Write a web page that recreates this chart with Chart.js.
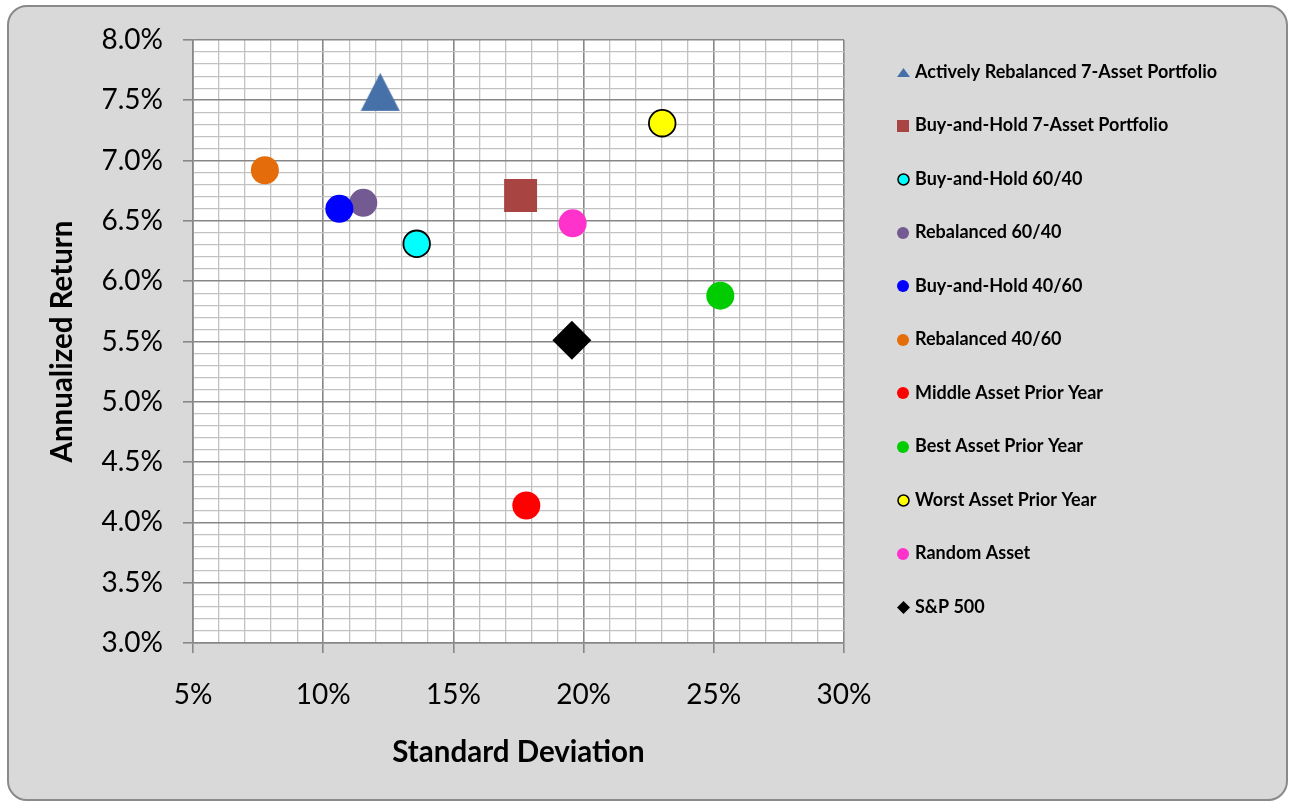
<!DOCTYPE html>
<html>
<head>
<meta charset="utf-8">
<script src="https://cdn.jsdelivr.net/npm/chart.js@4.4.1/dist/chart.umd.min.js"></script>
<style>
  html, body { margin: 0; padding: 0; background: #ffffff; }
  #frame {
    position: absolute; left: 7px; top: 5px; width: 1281px; height: 796px;
    box-sizing: border-box; border: 2px solid #8a8a8a; border-radius: 20px;
    background: #d9d9d9;
  }
  #chart { position: absolute; left: 0; top: 0; }
</style>
</head>
<body>
<div id="frame"></div>
<canvas id="chart" width="1293" height="802"></canvas>
<script>
// Risk / return of each strategy (percent)
const seriesNames = [
  'Actively Rebalanced 7-Asset Portfolio',
  'Buy-and-Hold 7-Asset Portfolio',
  'Buy-and-Hold 60/40',
  'Rebalanced 60/40',
  'Buy-and-Hold 40/60',
  'Rebalanced 40/60',
  'Middle Asset Prior Year',
  'Best Asset Prior Year',
  'Worst Asset Prior Year',
  'Random Asset',
  'S&P 500'
];
const stdDev    = [12.19, 17.58, 13.59, 11.54, 10.62, 7.76, 17.80, 25.25, 23.02, 19.58, 19.55];
const annReturn = [7.57, 6.71, 6.31, 6.65, 6.60, 6.92, 4.14, 5.88, 7.31, 6.48, 5.51];
const fillColors = ['#4671a8', '#a84543', '#00ffff', '#735a92', '#0000ff', '#e46c0a',
                    '#ff0000', '#00cc00', '#ffff00', '#ff33cc', '#000000'];
const markerShapes = ['triangle', 'square', 'circle', 'circle', 'circle', 'circle',
                      'circle', 'circle', 'circle', 'circle', 'diamond'];
const outlined = [false, false, true, false, false, false, false, false, true, false, false];

// Axis ranges and tick steps
const xRange = [5, 30];
const yRange = [3, 8];
const xMinorStep = 1, xMajorStep = 5;
const yMinorStep = 0.1, yMajorStep = 0.5;

const FONT = 'Lato';
const PLOT = { left: 193, right: 844, top: 40, bottom: 643 };
const W = 1293, H = 802;

function isMajor(v, step) {
  const r = v / step;
  return Math.abs(r - Math.round(r)) < 1e-6;
}

// Draws a marker into a small canvas so it can be used as a point style
function makeMarker(shape, w, h, fill, stroke, lw) {
  const pad = 2;
  const c = document.createElement('canvas');
  c.width = Math.ceil(w + pad * 2);
  c.height = Math.ceil(h + pad * 2);
  const g = c.getContext('2d');
  const cx = c.width / 2, cy = c.height / 2;
  g.beginPath();
  if (shape === 'triangle') {
    g.moveTo(cx, cy - h / 2);
    g.lineTo(cx + w / 2, cy + h / 2);
    g.lineTo(cx - w / 2, cy + h / 2);
    g.closePath();
  } else if (shape === 'square') {
    g.rect(cx - w / 2, cy - h / 2, w, h);
  } else if (shape === 'diamond') {
    g.moveTo(cx, cy - h / 2);
    g.lineTo(cx + w / 2, cy);
    g.lineTo(cx, cy + h / 2);
    g.lineTo(cx - w / 2, cy);
    g.closePath();
  } else {
    g.arc(cx, cy, w / 2, 0, Math.PI * 2);
  }
  g.fillStyle = fill;
  g.fill();
  if (stroke) {
    g.lineWidth = lw;
    g.strokeStyle = stroke;
    g.stroke();
  }
  return c;
}

const legendMarkers = markerShapes.map((s, i) => {
  if (s === 'triangle') return makeMarker(s, 13, 9, fillColors[i]);
  if (s === 'square') return makeMarker(s, 12, 12, fillColors[i]);
  if (s === 'diamond') return makeMarker(s, 13, 13, fillColors[i]);
  return outlined[i] ? makeMarker(s, 11, 11, fillColors[i], '#000', 1.5)
                     : makeMarker(s, 12, 12, fillColors[i]);
});

const datasets = seriesNames.map((name, i) => {
  const ds = {
    label: name,
    data: [{ x: stdDev[i], y: annReturn[i] }],
    backgroundColor: fillColors[i],
    borderColor: outlined[i] ? '#000000' : fillColors[i],
    borderWidth: outlined[i] ? 1.8 : 0,
    pointRadius: outlined[i] ? 13.3 : 14,
    pointHoverRadius: outlined[i] ? 13.3 : 14,
    pointStyle: 'circle',
    order: i
  };
  if (markerShapes[i] === 'triangle') {
    ds.pointStyle = makeMarker('triangle', 39, 38, fillColors[i]);
  } else if (markerShapes[i] === 'square') {
    ds.pointStyle = 'rect';
    ds.pointRadius = ds.pointHoverRadius = 23.3;
  } else if (markerShapes[i] === 'diamond') {
    ds.pointStyle = 'rectRot';
    ds.pointRadius = ds.pointHoverRadius = 19.5;
  }
  return ds;
});
// the 40/60 buy-and-hold dot sits on top of the rebalanced 60/40 dot
datasets[3].order = 4;
datasets[4].order = 3;

const plotBackground = {
  id: 'plotBackground',
  beforeDraw(chart) {
    const { ctx, chartArea: a } = chart;
    ctx.save();
    ctx.fillStyle = '#ffffff';
    ctx.fillRect(a.left, a.top, a.right - a.left, a.bottom - a.top);
    ctx.restore();
  }
};

// Single-column legend in the right margin, one row per dataset
const sideLegend = {
  id: 'sideLegend',
  afterDraw(chart, args, opts) {
    const ctx = chart.ctx;
    ctx.save();
    ctx.font = `bold ${opts.fontSize}px ${FONT}`;
    ctx.textBaseline = 'middle';
    ctx.textAlign = 'left';
    ctx.fillStyle = '#000000';
    chart.data.datasets.forEach((ds, i) => {
      const y = opts.top + i * opts.step;
      const m = legendMarkers[i];
      ctx.drawImage(m, Math.round(opts.markerX - m.width / 2), Math.round(y - m.height / 2));
      ctx.fillText(ds.label, opts.textX, y);
    });
    ctx.restore();
  }
};

const gridColor = (step) => (ctx) =>
  (ctx.tick && isMajor(ctx.tick.value, step)) ? '#878787' : '#c2c2c2';
const gridWidth = (step) => (ctx) =>
  (ctx.tick && isMajor(ctx.tick.value, step)) ? 1.6 : 1.3;
const tickColor = (step) => (ctx) =>
  (ctx.tick && isMajor(ctx.tick.value, step)) ? '#878787' : 'rgba(0,0,0,0)';

new Chart(document.getElementById('chart'), {
  type: 'scatter',
  data: { datasets },
  options: {
    responsive: false,
    animation: false,
    devicePixelRatio: 1,
    layout: { padding: { top: PLOT.top, left: 0, bottom: 0, right: W - PLOT.right } },
    scales: {
      x: {
        type: 'linear',
        min: xRange[0], max: xRange[1],
        afterFit(scale) { scale.height = H - PLOT.bottom; },
        border: { color: '#878787', width: 1.6 },
        grid: {
          color: gridColor(xMajorStep),
          lineWidth: gridWidth(xMajorStep),
          tickColor: tickColor(xMajorStep),
          tickWidth: 1.6,
          tickLength: 10
        },
        ticks: {
          stepSize: xMinorStep,
          autoSkip: false,
          maxRotation: 0,
          padding: 25,
          color: '#000000',
          font: { family: FONT, size: 28 },
          callback: (v) => isMajor(v, xMajorStep) ? Math.round(v) + '%' : ''
        },
        title: {
          display: true,
          text: 'Standard Deviation',
          color: '#000000',
          font: { family: FONT, size: 29.5, weight: 'bold' },
          padding: { top: 0, bottom: 32.3 }
        }
      },
      y: {
        type: 'linear',
        min: yRange[0], max: yRange[1],
        afterFit(scale) { scale.width = PLOT.left; },
        border: { color: '#878787', width: 1.6 },
        grid: {
          color: gridColor(yMajorStep),
          lineWidth: gridWidth(yMajorStep),
          tickColor: tickColor(yMajorStep),
          tickWidth: 1.6,
          tickLength: 10
        },
        ticks: {
          stepSize: yMinorStep,
          autoSkip: false,
          padding: 20,
          color: '#000000',
          font: { family: FONT, size: 28 },
          callback: (v) => isMajor(v, yMajorStep) ? v.toFixed(1) + '%' : ''
        },
        title: {
          display: true,
          text: 'Annualized Return',
          color: '#000000',
          font: { family: FONT, size: 29.5, weight: 'bold' },
          padding: { top: 44.3, bottom: 0 }
        }
      }
    },
    plugins: {
      tooltip: { enabled: false },
      legend: { display: false },
      sideLegend: { top: 72, step: 53.5, markerX: 903, textX: 915, fontSize: 18 }
    }
  },
  plugins: [plotBackground, sideLegend]
});
</script>
</body>
</html>
